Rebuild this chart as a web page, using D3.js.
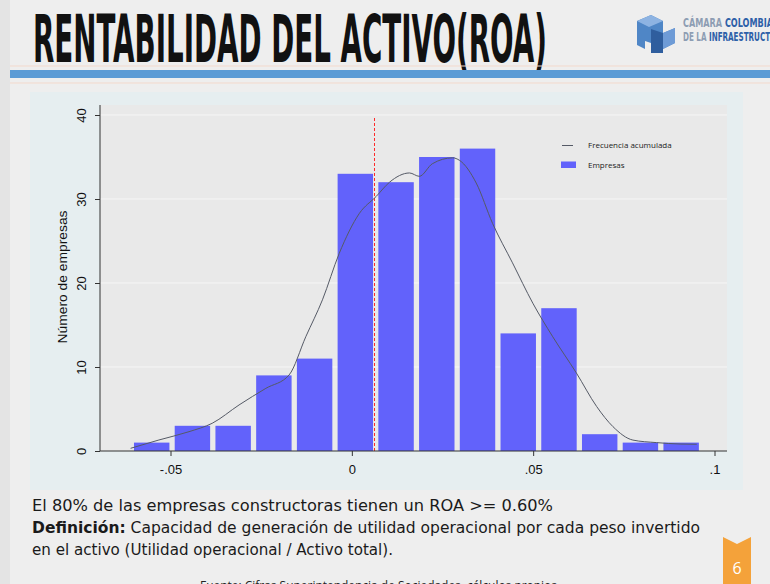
<!DOCTYPE html>
<html><head><meta charset="utf-8">
<script src="https://cdn.jsdelivr.net/npm/d3@7"></script>
<style>html,body{margin:0;padding:0;background:#eeeeee;overflow:hidden}svg{display:block}</style>
</head><body>
<svg id="c" width="770" height="584"></svg>
<script>
// ---- data ----
const binStart = -0.0608;
const binWidth = 0.01123;
const counts = [1, 3, 3, 9, 11, 33, 32, 35, 36, 14, 17, 2, 1, 1];
const curveX = [-0.0610,-0.0532,-0.0449,-0.0385,-0.0311,-0.0237,-0.0173,-0.0127,-0.0081,-0.0035,0.0021,0.0067,0.0104,0.0159,0.0186,0.0222,0.0278,0.0297,0.0343,0.0388,0.0443,0.0499,0.0554,0.0619,0.0675,0.0720,0.0775,0.0840,0.0905,0.0951];
const curveY = [0.32,1.31,2.30,3.30,5.48,7.46,9.05,13.6,18.0,23.5,28.3,30.3,32.0,33.1,32.7,34.2,34.9,34.6,31.9,27.1,22.4,17.6,13.6,9.3,5.3,2.9,1.3,1.0,0.83,0.8];
const refLine = 0.006;
const xTicks = [-0.05, 0, 0.05, 0.1];
const xTickLabels = ["-.05", "0", ".05", ".1"];
const yTicks = [0, 10, 20, 30, 40];
const legendLabels = ["Frecuencia acumulada", "Empresas"];
const title = "RENTABILIDAD DEL ACTIVO(ROA)";
const yTitle = "Número de empresas";
const note1 = "El 80% de las empresas constructoras tienen un ROA >= 0.60%";
const defBold = "Definición:";
const defText = " Capacidad de generación de utilidad operacional por cada peso invertido";
const defText2 = "en el activo (Utilidad operacional / Activo total).";
const source = "Fuente: Cifras Superintendencia de Sociedades, cálculos propios";
const pageNum = "6";
const logoLine1 = ["CÁMARA ", "COLOMBIA"];
const logoLine2 = ["DE LA ", "INFRAESTRUCTURA"];

const svg = d3.select("#c");
const barColor = "#6262fb";

// page background
svg.append("rect").attr("width",770).attr("height",584).attr("fill","#eeeeee");
svg.append("rect").attr("x",0).attr("y",0).attr("width",10).attr("height",584).attr("fill","#e4e4e4");

// title
svg.append("text").attr("x",33).attr("y",62)
  .attr("font-family","'Liberation Sans Narrow','DejaVu Sans Condensed','Liberation Sans',sans-serif")
  .attr("font-weight","bold").attr("font-size",66)
  .attr("textLength",514).attr("lengthAdjust","spacingAndGlyphs")
  .attr("fill","#111").text(title);

// faint lines + blue bar
svg.append("line").attr("x1",10).attr("x2",770).attr("y1",66).attr("y2",66).attr("stroke","#f3d9cc").attr("stroke-width",1);
svg.append("rect").attr("x",10).attr("y",70).attr("width",760).attr("height",8).attr("fill","#5b9bd5");
svg.append("line").attr("x1",10).attr("x2",770).attr("y1",83).attr("y2",83).attr("stroke","#f3d9cc").attr("stroke-width",1);

// logo
const lg = svg.append("g").attr("transform","translate(637,13)");
lg.append("path").attr("d","M0,8 L14,2 L26,8 L26,20 L38,15 L38,30 L26,36 L26,40 L14,40 L14,30 L8,28 L8,36 L0,32 Z").attr("fill","#4f86c6");
lg.append("path").attr("d","M0,8 L14,2 L26,8 L12,14 Z").attr("fill","#8db3e2");
lg.append("path").attr("d","M14,16 L26,20 L26,40 L14,40 Z").attr("fill","#2f5e9e");
lg.append("path").attr("d","M26,20 L38,15 L38,30 L26,36 Z").attr("fill","#6e9bd6");
const logoFont = "'Liberation Sans Narrow','DejaVu Sans Condensed',sans-serif";
const lt = svg.append("text").attr("x",683).attr("y",27)
  .attr("font-family",logoFont).attr("font-weight","bold").attr("font-size",12.5)
  .attr("textLength",90).attr("lengthAdjust","spacingAndGlyphs");
lt.append("tspan").attr("fill","#8d9db3").text(logoLine1[0]);
lt.append("tspan").attr("fill","#2d60a8").text(logoLine1[1]);
const lt2 = svg.append("text").attr("x",683).attr("y",41)
  .attr("font-family",logoFont).attr("font-weight","bold").attr("font-size",12.5)
  .attr("textLength",104).attr("lengthAdjust","spacingAndGlyphs");
lt2.append("tspan").attr("fill","#8d9db3").text(logoLine2[0]);
lt2.append("tspan").attr("fill","#2d60a8").text(logoLine2[1]);

// chart panel
svg.append("rect").attr("x",30).attr("y",92).attr("width",713).attr("height",398).attr("fill","#e6eef0");
const plotL = 100, plotR = 727, plotT = 105, plotB = 451;
svg.append("rect").attr("x",plotL).attr("y",plotT).attr("width",plotR-plotL).attr("height",plotB-plotT).attr("fill","#e9e9e9");

const x = d3.scaleLinear().domain([-0.05, 0.1]).range([170.5, 714.5]);
const y = d3.scaleLinear().domain([0, 40]).range([451, 115]);

// gridlines
svg.append("g").selectAll("line").data(yTicks.filter(d=>d>0)).join("line")
  .attr("x1",plotL).attr("x2",plotR).attr("y1",d=>y(d)).attr("y2",d=>y(d))
  .attr("stroke","#f6f6f6").attr("stroke-width",1);

// bars
const gap = 0.13;
svg.append("g").selectAll("rect").data(counts).join("rect")
  .attr("x",(d,i)=>x(binStart + i*binWidth + binWidth*gap/2))
  .attr("width",(d,i)=>x(binStart + (i+1)*binWidth - binWidth*gap/2) - x(binStart + i*binWidth + binWidth*gap/2))
  .attr("y",d=>y(d)).attr("height",d=>y(0)-y(d)).attr("fill",barColor);

// reference dashed line
const rx = Math.round(x(refLine)) + 0.5;
svg.append("line").attr("x1",rx).attr("x2",rx).attr("y1",118).attr("y2",y(0))
  .attr("stroke","#ff2a2a").attr("stroke-width",1).attr("stroke-dasharray","3,2");

// curve
const pts = curveX.map((v,i)=>[v, curveY[i]]);
svg.append("path").datum(pts)
  .attr("d", d3.line().x(d=>x(d[0])).y(d=>y(d[1])).curve(d3.curveMonotoneX))
  .attr("fill","none").attr("stroke","#555a66").attr("stroke-width",1);

// axes
const xAxis = svg.append("g").attr("transform",`translate(0,${plotB})`)
  .call(d3.axisBottom(x).tickValues(xTicks).tickFormat((d,i)=>xTickLabels[i]).tickSize(5).tickSizeOuter(0));
xAxis.select(".domain").attr("d",`M${plotL},0H${plotR}`).attr("stroke","#333");
xAxis.selectAll(".tick line").attr("stroke","#333");
xAxis.selectAll("text").attr("font-family","'Liberation Sans',Arial,sans-serif").attr("font-size",13).attr("fill","#111").attr("dy","1.15em");

const yAxis = svg.append("g").attr("transform",`translate(${plotL},0)`)
  .call(d3.axisLeft(y).tickValues(yTicks).tickSize(5).tickSizeOuter(0));
yAxis.select(".domain").attr("d",`M0,${plotT}V${plotB}`).attr("stroke","#333");
yAxis.selectAll(".tick line").attr("stroke","#333");
yAxis.selectAll("text").attr("font-family","'Liberation Sans',Arial,sans-serif").attr("font-size",13).attr("fill","#111")
  .attr("x",0).attr("dy",0).attr("text-anchor","middle")
  .attr("transform","translate(-19,0) rotate(-90)").attr("y",5);

svg.append("text").attr("transform","translate(67,277) rotate(-90)")
  .attr("text-anchor","middle").attr("font-family","'Liberation Sans',Arial,sans-serif").attr("font-size",12)
  .attr("textLength",133).attr("lengthAdjust","spacingAndGlyphs").attr("fill","#111").text(yTitle);

// legend
svg.append("line").attr("x1",562).attr("x2",573).attr("y1",145.5).attr("y2",145.5).attr("stroke","#555a66").attr("stroke-width",1);
svg.append("rect").attr("x",561).attr("y",161.5).attr("width",15).attr("height",6.5).attr("fill",barColor);
svg.selectAll(".lg").data(legendLabels).join("text").attr("class","lg")
  .attr("x",588).attr("y",(d,i)=>[147.5,168][i])
  .attr("font-family","'Open Sans',sans-serif").attr("font-size",8).attr("fill","#222").text(d=>d);

// notes
const bodyFont = "'DejaVu Sans Condensed','Open Sans',sans-serif";
svg.append("text").attr("x",32).attr("y",511).attr("font-family",bodyFont).attr("font-size",16.5)
  .attr("textLength",521).attr("lengthAdjust","spacingAndGlyphs").attr("fill","#1a1a1a").text(note1);
const d2 = svg.append("text").attr("x",32).attr("y",533).attr("font-family",bodyFont).attr("font-size",16.5)
  .attr("textLength",668).attr("lengthAdjust","spacingAndGlyphs").attr("fill","#1a1a1a");
d2.append("tspan").attr("font-weight","bold").text(defBold);
d2.append("tspan").text(defText);
svg.append("text").attr("x",32).attr("y",555).attr("font-family",bodyFont).attr("font-size",16.5)
  .attr("textLength",361).attr("lengthAdjust","spacingAndGlyphs").attr("fill","#1a1a1a").text(defText2);

svg.append("text").attr("x",200).attr("y",590).attr("font-family","'Open Sans',sans-serif").attr("font-size",13)
  .attr("textLength",357).attr("lengthAdjust","spacingAndGlyphs").attr("fill","#222").text(source);

// page tab
svg.append("path").attr("d","M723,537 L737,544 L751,537 L751,584 L723,584 Z").attr("fill","#f4a23a");
svg.append("text").attr("x",737).attr("y",574).attr("text-anchor","middle").attr("font-family","'Open Sans',sans-serif")
  .attr("font-size",16).attr("fill","#fff").text(pageNum);
</script>
</body></html>
